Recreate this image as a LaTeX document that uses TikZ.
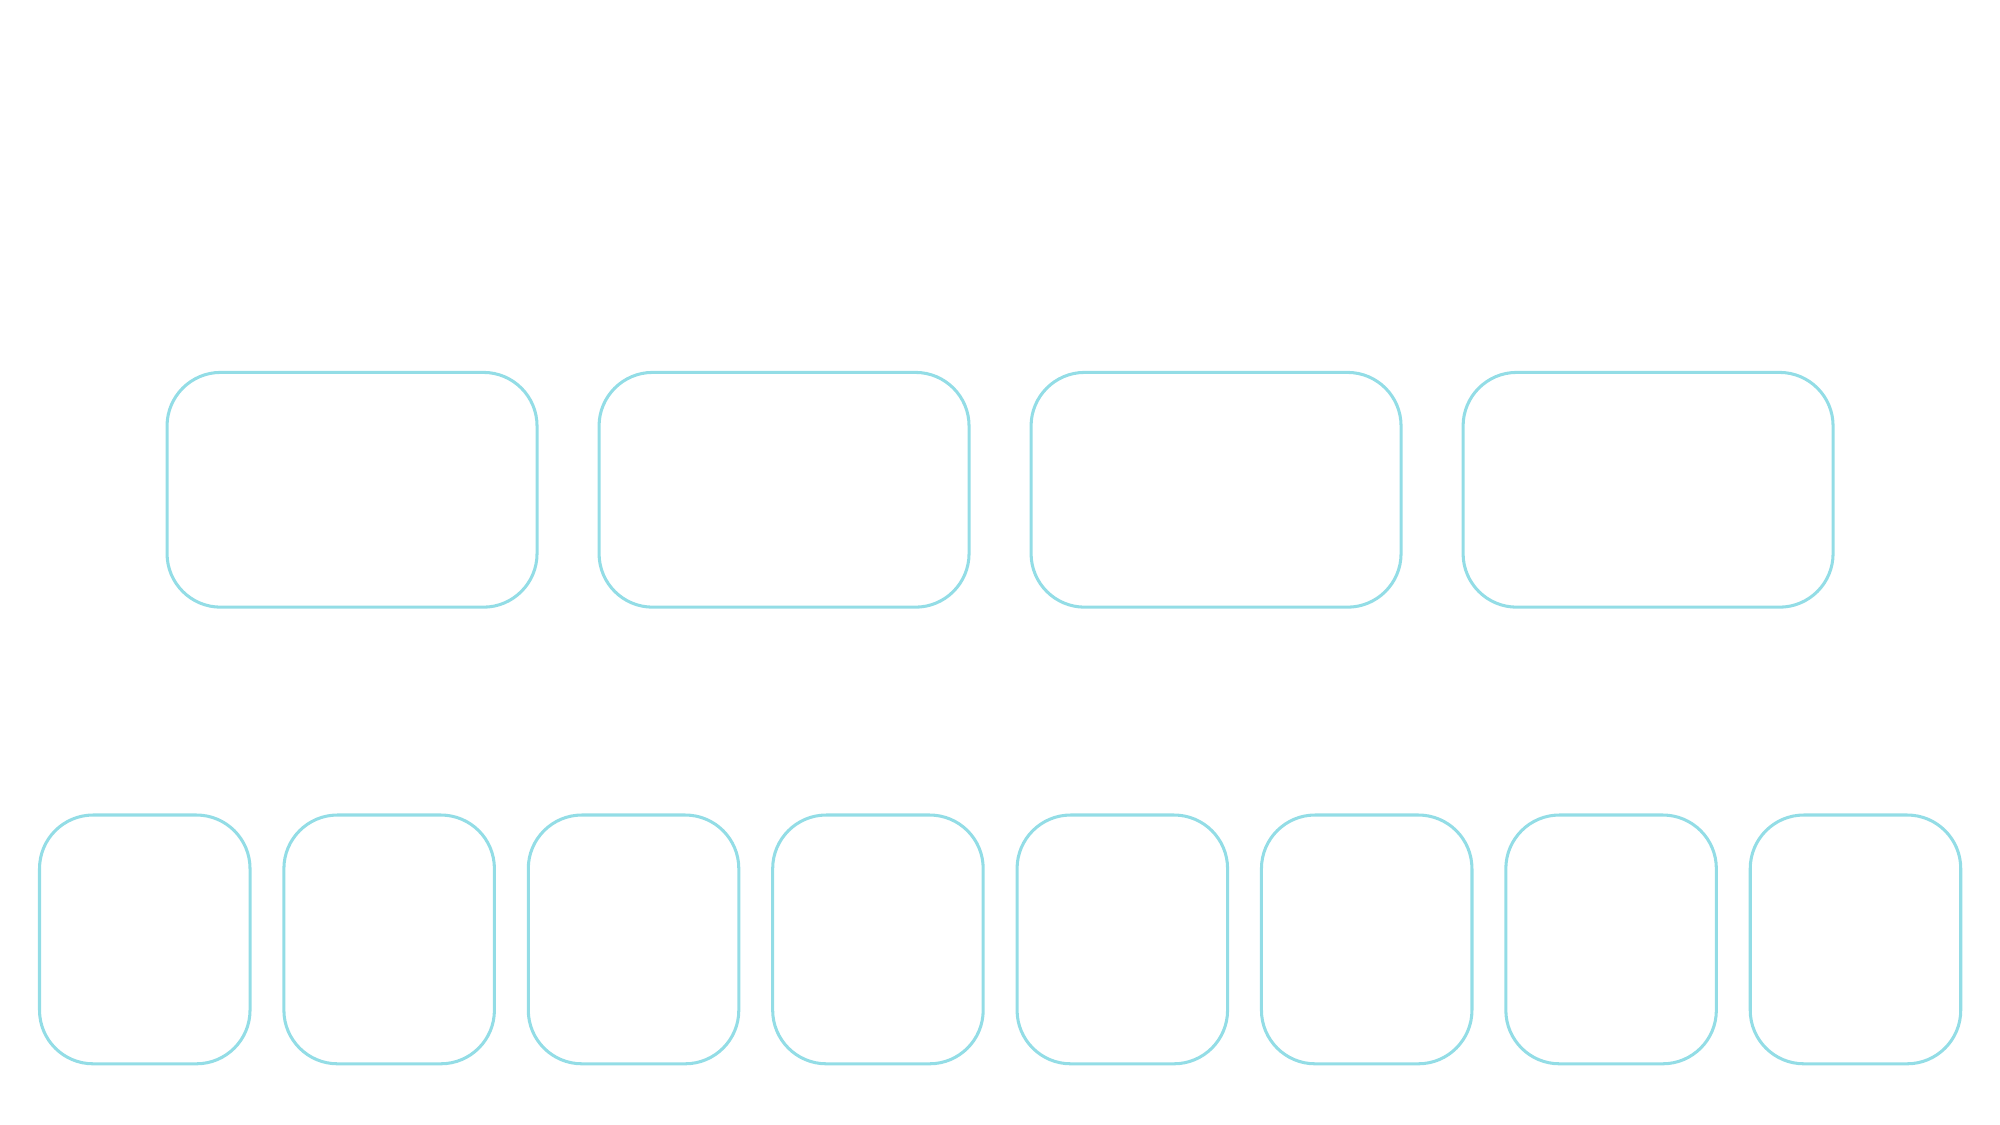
\documentclass[tikz,border=0pt]{standalone}
\usetikzlibrary{positioning}
\definecolor{boxcyan}{HTML}{93DDE6}
\tikzset{
  box/.style={draw=boxcyan, line width=1.7pt, rounded corners=1.05cm, inner sep=0pt},
  topbox/.style={box, minimum width=7.25cm, minimum height=4.6cm},
  lowbox/.style={box, minimum width=4.125cm, minimum height=4.875cm}
}
\begin{document}
\begin{tikzpicture}[x=0.025cm, y=0.025cm]
    \useasboundingbox (0,0) rectangle (1568,882);
    % upper row
    \foreach \i in {0,...,3}
        \node[topbox] (top\i) at ({276+\i*338.7},498) {};
    % lower row
    \foreach \i in {0,...,7}
        \node[lowbox] (low\i) at ({113.5+\i*191.6},145.5) {};
\end{tikzpicture}
\end{document}
